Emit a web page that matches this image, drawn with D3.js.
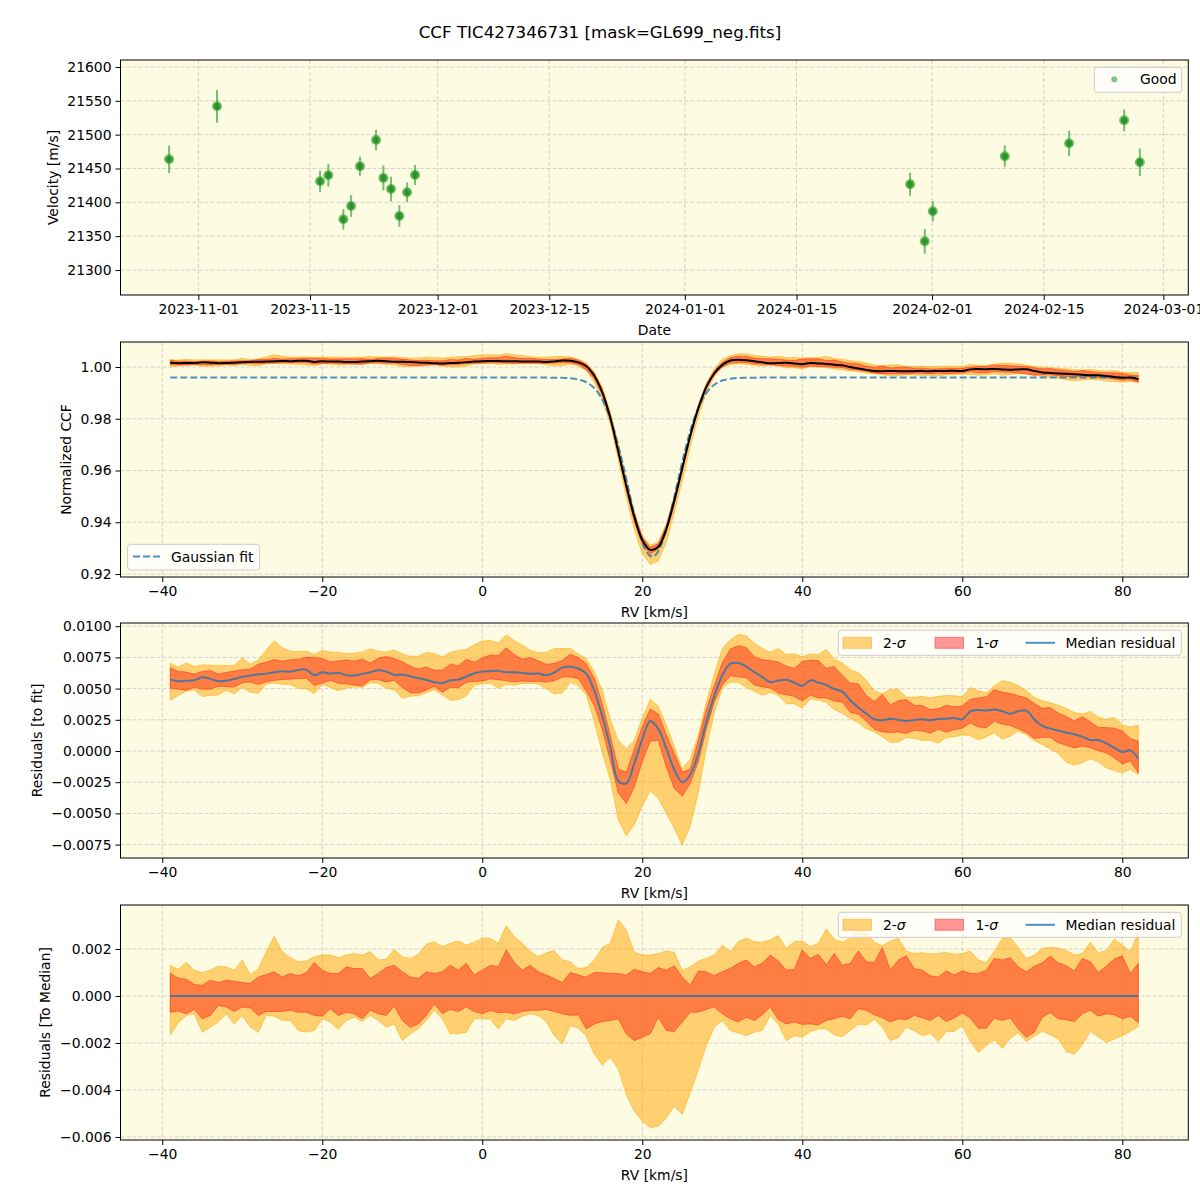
<!DOCTYPE html>
<html><head><meta charset="utf-8">
<script src="https://cdn.jsdelivr.net/npm/d3@7"></script>
<style>
body{margin:0;background:#fff}
svg{display:block}
text{font-family:"DejaVu Sans",sans-serif;fill:#000}
</style>
</head><body>
<svg id="chart" width="1200" height="1200"></svg>
<script>
// ---------------- DATA ----------------
const TITLE = "CCF TIC427346731 [mask=GL699_neg.fits]";

// Top panel: RV time series ("Good" points)
const obsDates = ["2023-10-28T08:00","2023-11-03T08:10","2023-11-16T06:15","2023-11-17T07:10","2023-11-19T04:20",
  "2023-11-20T03:40","2023-11-21T06:30","2023-11-23T06:45","2023-11-24T04:50","2023-11-25T03:50",
  "2023-11-26T04:50","2023-11-27T04:05","2023-11-28T04:05","2024-01-29T05:45","2024-01-31T02:00",
  "2024-02-01T02:10","2024-02-10T02:50","2024-02-18T04:20","2024-02-25T02:00","2024-02-27T01:10"];
const obsVel = [21463.6,21541.9,21431.1,21440.0,21374.9,21394.6,21453.3,21492.1,21436.0,21419.7,
  21379.8,21414.8,21440.4,21426.7,21342.4,21386.8,21468.0,21487.2,21521.2,21459.2];
const obsErr = [20.4,24.1,16.0,16.7,15.2,16.0,14.0,15.2,18.5,18.2,16.0,14.5,14.8,17.0,18.2,14.8,16.0,18.5,16.0,20.4];
const dateTicks = ["2023-11-01","2023-11-15","2023-12-01","2023-12-15","2024-01-01","2024-01-15","2024-02-01","2024-02-15","2024-03-01"];
const velTicks = [21300,21350,21400,21450,21500,21550,21600];

// CCF RV grid (km/s) and Gaussian fit parameters
const rvGrid = d3.range(-39, 83, 1);
const FIT_BASE = 0.9959, FIT_AMP = 0.0692, FIT_MU = 21.25, FIT_SIGMA = 3.05;

// Residual curves, in units of 1e-3
const UNIT = 1e-3;
const medianRes = [5.72,5.59,5.62,5.67,5.91,5.78,5.59,5.62,5.78,5.94,
  6.04,6.15,6.20,6.31,6.39,6.36,6.50,6.52,6.07,6.31,
  6.20,6.26,6.07,6.04,6.18,6.31,6.47,6.36,6.10,6.12,
  5.99,5.83,5.70,5.51,5.45,5.67,5.72,5.96,6.23,6.36,
  6.39,6.42,6.31,6.31,6.26,6.18,6.20,6.07,6.28,6.68,
  6.76,6.60,6.20,4.83,2.80,0.30,-2.40,-2.60,-1.00,0.93,
  2.40,1.76,0.20,-1.50,-2.50,-1.90,-0.20,2.30,4.40,6.05,
  7.00,7.05,6.77,6.32,5.93,5.52,5.64,5.70,5.48,5.21,
  5.67,5.48,5.29,4.97,4.76,4.06,3.48,2.99,2.54,2.46,
  2.59,2.49,2.41,2.49,2.54,2.46,2.57,2.59,2.65,2.54,
  3.18,3.29,3.24,3.32,3.18,2.99,3.18,3.24,2.54,2.01,
  1.79,1.63,1.47,1.34,1.15,0.88,0.88,0.61,0.26,-0.08,
  0.05,-0.61];
// Offsets from the median (upper/lower 2-sigma and 1-sigma), units of 1e-3
const up2 = [1.31,1.13,1.43,1.10,0.99,1.10,1.27,1.23,1.10,1.53,
  0.91,1.14,1.89,2.53,1.89,1.63,1.46,1.49,1.67,1.74,
  1.74,1.63,1.74,1.81,1.74,1.89,1.53,1.57,1.99,1.67,
  1.60,1.77,2.20,2.31,2.10,2.24,2.34,2.17,2.29,2.46,
  2.46,2.24,2.99,2.53,2.24,1.89,1.67,1.84,1.93,1.53,
  1.46,1.17,1.21,1.53,2.06,2.24,3.24,2.81,1.86,1.74,
  1.74,1.81,1.91,1.86,1.10,1.24,1.49,1.60,1.74,2.17,
  1.89,2.31,2.46,2.31,2.29,2.39,2.57,2.03,2.31,2.34,
  2.10,2.24,2.86,2.41,2.29,2.46,2.81,2.67,2.29,2.14,
  2.34,2.46,1.91,1.81,1.84,1.79,1.81,1.86,1.77,1.81,
  1.91,1.53,1.43,1.89,2.46,2.50,2.06,1.60,1.74,2.03,
  2.07,2.03,1.94,1.74,1.81,2.29,1.84,1.93,2.43,2.17,
  1.89,2.67];
const up1 = [0.96,0.77,0.71,0.49,0.46,0.67,0.57,0.67,0.63,0.57,
  0.53,0.81,0.91,1.03,0.81,0.96,0.86,0.99,1.43,1.10,
  0.96,0.96,1.24,1.17,1.17,0.74,0.96,1.21,1.31,1.03,
  0.81,0.74,1.03,0.96,1.03,1.31,1.10,1.39,0.89,1.10,
  1.31,1.24,1.96,1.43,1.10,1.31,1.03,0.89,0.74,0.57,
  1.00,0.89,0.81,1.00,0.99,0.96,0.96,0.89,1.14,1.03,
  0.96,1.21,1.10,1.29,0.81,0.46,1.06,1.03,0.86,1.03,
  1.17,1.39,1.53,1.24,1.39,1.74,1.49,1.10,1.14,1.96,
  1.60,1.77,1.34,1.81,1.31,1.39,1.91,1.46,1.43,2.06,
  1.10,1.53,1.71,1.17,1.10,0.86,0.81,1.07,0.89,1.07,
  0.96,0.96,1.10,1.60,1.53,1.63,1.24,1.03,1.27,1.41,
  1.70,1.41,1.29,1.06,1.60,1.46,1.00,1.27,1.57,1.71,
  0.96,1.39];
const lo1 = [-0.69,-0.64,-0.76,-0.57,-0.97,-0.83,-0.40,-0.47,-0.66,-0.47,
  -0.51,-0.83,-0.66,-0.66,-0.66,-0.61,-0.69,-0.69,-0.83,-0.86,
  -0.54,-0.83,-0.69,-0.76,-0.97,-0.61,-0.76,-0.83,-0.43,-1.04,
  -1.33,-1.19,-0.83,-0.33,-0.76,-0.57,-0.66,-0.47,-0.66,-0.76,
  -0.61,-0.71,-0.69,-0.76,-0.66,-0.61,-0.61,-0.57,-0.66,-0.76,
  -0.83,-0.80,-1.40,-1.19,-1.09,-1.04,-0.97,-1.61,-1.90,-1.76,
  -1.61,-0.90,-1.47,-1.51,-1.11,-0.69,-0.69,-0.57,-0.47,-0.76,
  -0.97,-1.11,-0.90,-1.04,-0.80,-0.47,-1.00,-1.19,-1.11,-1.21,
  -1.19,-1.23,-1.04,-0.97,-0.86,-0.97,-0.54,-0.61,-0.80,-0.93,
  -1.11,-0.97,-1.01,-0.83,-0.93,-1.04,-0.83,-1.09,-0.94,-0.71,
  -0.94,-1.37,-1.37,-0.94,-1.04,-0.94,-1.40,-1.76,-1.54,-0.90,
  -0.71,-0.97,-1.01,-1.09,-0.76,-0.61,-0.86,-0.76,-0.80,-0.97,
  -0.86,-1.14];
const lo2 = [-1.66,-1.14,-0.83,-0.76,-1.54,-1.33,-1.11,-0.76,-1.19,-0.83,
  -1.33,-1.54,-0.83,-0.86,-1.04,-1.04,-1.47,-1.54,-1.47,-0.97,
  -1.11,-1.43,-1.04,-0.90,-1.09,-0.83,-1.04,-1.33,-1.19,-1.90,
  -1.61,-1.40,-1.04,-0.61,-0.97,-1.61,-1.61,-1.54,-0.97,-0.97,
  -0.97,-1.40,-0.97,-1.04,-0.86,-0.76,-0.83,-1.09,-1.69,-2.04,
  -1.26,-1.37,-1.71,-2.47,-2.94,-2.61,-3.11,-4.19,-4.90,-5.33,
  -5.61,-5.54,-5.19,-4.69,-5.04,-4.11,-3.14,-2.11,-1.33,-1.04,
  -1.47,-1.57,-1.69,-1.54,-1.47,-0.83,-1.19,-1.90,-1.69,-1.76,
  -1.51,-1.40,-1.40,-1.66,-1.73,-1.47,-1.20,-1.23,-1.00,-1.33,
  -1.90,-1.77,-1.33,-1.49,-1.69,-1.59,-1.94,-1.51,-1.51,-1.26,
  -1.94,-2.40,-2.11,-1.86,-2.23,-1.80,-1.57,-1.94,-1.71,-1.50,
  -1.66,-1.83,-2.37,-2.47,-2.09,-1.51,-1.74,-1.97,-1.83,-1.69,
  -1.51,-1.29];

const rvTicks = [-40,-20,0,20,40,60,80];
const ccfTicks = [0.92,0.94,0.96,0.98,1.00];
const resFitTicks = [-0.0075,-0.005,-0.0025,0,0.0025,0.005,0.0075,0.01];
const resMedTicks = [-0.006,-0.004,-0.002,0,0.002];

// ---------------- DRAWING ----------------
const svg = d3.select("#chart");
svg.append("rect").attr("width",1200).attr("height",1200).attr("fill","#fff");
const BG = "#fdfbe1", GRID = "#c9c9c9";
const L = 120.5, R = 1188.3;
const FS = 13.9;
const COL_2S = "#ffa500", COL_1S = "#ff0000", COL_MED = "#1f77b4";
const smooth = d3.curveCatmullRom.alpha(0.5);

const gaussFit = rv => FIT_BASE - FIT_AMP * Math.exp(-((rv - FIT_MU) ** 2) / (2 * FIT_SIGMA ** 2));

const rows = rvGrid.map((rv, i) => ({
  rv, m: medianRes[i]*UNIT, u2: up2[i]*UNIT, u1: up1[i]*UNIT, l1: lo1[i]*UNIT, l2: lo2[i]*UNIT
}));

svg.append("text").attr("x",600).attr("y",38).attr("text-anchor","middle")
  .attr("font-size",16.7).text(TITLE);

function panelBase(top, bottom) {
  const g = svg.append("g");
  g.append("rect").attr("x",L).attr("y",top).attr("width",R-L).attr("height",bottom-top).attr("fill",BG);
  return g;
}
function grid(g, xs, ys, xScale, yScale, top, bottom) {
  xs.forEach(v => g.append("line").attr("x1",xScale(v)).attr("x2",xScale(v)).attr("y1",top).attr("y2",bottom)
    .attr("stroke",GRID).attr("stroke-width",0.8).attr("stroke-dasharray","4,2"));
  ys.forEach(v => g.append("line").attr("x1",L).attr("x2",R).attr("y1",yScale(v)).attr("y2",yScale(v))
    .attr("stroke",GRID).attr("stroke-width",0.8).attr("stroke-dasharray","4,2"));
}
function axes(g, xScale, xTicks, xFmt, yScale, yTicks, yFmt, top, bottom) {
  const ax = g.append("g").attr("transform",`translate(0,${bottom})`)
    .call(d3.axisBottom(xScale).tickValues(xTicks).tickFormat(xFmt).tickSize(5).tickPadding(4));
  const ay = g.append("g").attr("transform",`translate(${L},0)`)
    .call(d3.axisLeft(yScale).tickValues(yTicks).tickFormat(yFmt).tickSize(5).tickPadding(4));
  [ax, ay].forEach(a => {
    a.select(".domain").remove();
    a.selectAll("text").attr("font-size",FS).attr("font-family","DejaVu Sans").attr("fill","#000");
    a.selectAll("line").attr("stroke","#000").attr("stroke-width",1);
  });
  g.append("rect").attr("x",L).attr("y",top).attr("width",R-L).attr("height",bottom-top)
    .attr("fill","none").attr("stroke","#000").attr("stroke-width",1);
}
function xLabel(text, y) {
  svg.append("text").attr("x",(L+R)/2).attr("y",y).attr("text-anchor","middle").attr("font-size",FS).text(text);
}
function yLabel(text, x, top, bottom) {
  svg.append("text").attr("transform",`translate(${x},${(top+bottom)/2}) rotate(-90)`)
    .attr("text-anchor","middle").attr("dominant-baseline","central").attr("font-size",FS).text(text);
}
function bandLegend(top) {
  const g = svg.append("g");
  g.append("rect").attr("x",838.3).attr("y",top).attr("width",343).attr("height",25).attr("rx",3)
    .attr("fill","#fff").attr("fill-opacity",0.8).attr("stroke","#cccccc");
  const cy = top + 12.5;
  g.append("rect").attr("x",843).attr("y",cy-5.5).attr("width",28.5).attr("height",11)
    .attr("fill",COL_2S).attr("fill-opacity",0.5).attr("stroke",COL_2S).attr("stroke-opacity",0.5);
  const t1 = g.append("text").attr("x",883).attr("y",cy+5).attr("font-size",FS);
  t1.append("tspan").text("2-"); t1.append("tspan").attr("font-style","italic").text("σ");
  g.append("rect").attr("x",935).attr("y",cy-5.5).attr("width",28.5).attr("height",11)
    .attr("fill",COL_1S).attr("fill-opacity",0.4).attr("stroke",COL_1S).attr("stroke-opacity",0.4);
  const t2 = g.append("text").attr("x",975.5).attr("y",cy+5).attr("font-size",FS);
  t2.append("tspan").text("1-"); t2.append("tspan").attr("font-style","italic").text("σ");
  g.append("line").attr("x1",1025.5).attr("x2",1055).attr("y1",cy).attr("y2",cy)
    .attr("stroke",COL_MED).attr("stroke-opacity",0.8).attr("stroke-width",2);
  g.append("text").attr("x",1065.5).attr("y",cy+5).attr("font-size",FS).text("Median residual");
}
function drawBands(g, x, y, base) {
  const a2 = d3.area().x(d => x(d.rv)).y0(d => y(base(d) + d.m + d.l2)).y1(d => y(base(d) + d.m + d.u2));
  const a1 = d3.area().x(d => x(d.rv)).y0(d => y(base(d) + d.m + d.l1)).y1(d => y(base(d) + d.m + d.u1));
  g.append("path").datum(rows).attr("d",a2).attr("fill",COL_2S).attr("fill-opacity",0.5)
    .attr("stroke",COL_2S).attr("stroke-opacity",0.5).attr("stroke-width",1);
  g.append("path").datum(rows).attr("d",a1).attr("fill",COL_1S).attr("fill-opacity",0.4)
    .attr("stroke",COL_1S).attr("stroke-opacity",0.4).attr("stroke-width",1);
}

// ----- Panel 1: velocity time series -----
{
  const top = 60, bottom = 295;
  const parseT = d3.utcParse("%Y-%m-%dT%H:%M"), parseD = d3.utcParse("%Y-%m-%d");
  const x = d3.scaleUtc().domain([new Date(Date.UTC(2023,9,22,5,45)), new Date(Date.UTC(2024,2,4,3,0))]).range([L,R]);
  const y = d3.scaleLinear().domain([21263.1, 21610.3]).range([bottom, top]);
  const g = panelBase(top, bottom);
  const dTicks = dateTicks.map(parseD);
  grid(g, dTicks, velTicks, x, y, top, bottom);
  const pts = obsDates.map((d,i) => ({t: parseT(d), v: obsVel[i], e: obsErr[i]}));
  g.selectAll(".eb").data(pts).join("line")
    .attr("x1",d=>x(d.t)).attr("x2",d=>x(d.t)).attr("y1",d=>y(d.v-d.e)).attr("y2",d=>y(d.v+d.e))
    .attr("stroke","#2ca02c").attr("stroke-opacity",0.65).attr("stroke-width",2);
  g.selectAll(".mk").data(pts).join("circle")
    .attr("cx",d=>x(d.t)).attr("cy",d=>y(d.v)).attr("r",5)
    .attr("fill","#2ca02c").attr("fill-opacity",0.65);
  g.selectAll(".mk2").data(pts).join("circle")
    .attr("cx",d=>x(d.t)).attr("cy",d=>y(d.v)).attr("r",3.4)
    .attr("fill","#1f8a1f").attr("fill-opacity",0.75);
  axes(g, x, dTicks, d3.utcFormat("%Y-%m-%d"), y, velTicks, d3.format("d"), top, bottom);
  // legend
  svg.append("rect").attr("x",1094.3).attr("y",67.3).attr("width",87.4).attr("height",25).attr("rx",3)
    .attr("fill","#fff").attr("fill-opacity",0.8).attr("stroke","#cccccc");
  svg.append("circle").attr("cx",1114.3).attr("cy",79.3).attr("r",3).attr("fill","#2ca02c").attr("fill-opacity",0.6);
  svg.append("text").attr("x",1140).attr("y",84.3).attr("font-size",FS).text("Good");
  xLabel("Date", 335);
  yLabel("Velocity [m/s]", 53, top, bottom);
}

const xRV = d3.scaleLinear().domain([-45.22, 88.25]).range([L, R]);

// ----- Panel 2: normalized CCF -----
{
  const top = 342, bottom = 577;
  const y = d3.scaleLinear().domain([0.918841, 1.009662]).range([bottom, top]);
  const g = panelBase(top, bottom);
  grid(g, rvTicks, ccfTicks, xRV, y, top, bottom);
  drawBands(g, xRV, y, d => gaussFit(d.rv));
  const fitPts = d3.range(-39, 82.01, 0.25);
  g.append("path").datum(fitPts)
    .attr("d", d3.line().x(d => xRV(d)).y(d => y(gaussFit(d))))
    .attr("fill","none").attr("stroke",COL_MED).attr("stroke-opacity",0.8).attr("stroke-width",2)
    .attr("stroke-dasharray","7,3");
  g.append("path").datum(rows)
    .attr("d", d3.line().curve(smooth).x(d => xRV(d.rv)).y(d => y(gaussFit(d.rv) + d.m)))
    .attr("fill","none").attr("stroke","#000").attr("stroke-width",2);
  axes(g, xRV, rvTicks, d3.format("d"), y, ccfTicks, d3.format(".2f"), top, bottom);
  svg.append("rect").attr("x",127.6).attr("y",544.3).attr("width",132).attr("height",25.7).attr("rx",3)
    .attr("fill","#fff").attr("fill-opacity",0.8).attr("stroke","#cccccc");
  svg.append("line").attr("x1",133).attr("x2",161).attr("y1",556.5).attr("y2",556.5)
    .attr("stroke",COL_MED).attr("stroke-opacity",0.8).attr("stroke-width",2).attr("stroke-dasharray","7,3");
  svg.append("text").attr("x",171).attr("y",561.5).attr("font-size",FS).text("Gaussian fit");
  xLabel("RV [km/s]", 617);
  yLabel("Normalized CCF", 66, top, bottom);
}

// ----- Panel 3: residuals to fit -----
{
  const top = 623, bottom = 858;
  const y = d3.scaleLinear().domain([-0.008574, 0.010256]).range([bottom, top]);
  const g = panelBase(top, bottom);
  grid(g, rvTicks, resFitTicks, xRV, y, top, bottom);
  drawBands(g, xRV, y, d => 0);
  g.append("path").datum(rows)
    .attr("d", d3.line().curve(smooth).x(d => xRV(d.rv)).y(d => y(d.m)))
    .attr("fill","none").attr("stroke",COL_MED).attr("stroke-opacity",0.8).attr("stroke-width",2);
  axes(g, xRV, rvTicks, d3.format("d"), y, resFitTicks, d3.format(".4f"), top, bottom);
  bandLegend(630.3);
  xLabel("RV [km/s]", 898);
  yLabel("Residuals [to fit]", 37, top, bottom);
}

// ----- Panel 4: residuals to median -----
{
  const top = 905, bottom = 1140;
  const y = d3.scaleLinear().domain([-0.006128, 0.003872]).range([bottom, top]);
  const g = panelBase(top, bottom);
  grid(g, rvTicks, resMedTicks, xRV, y, top, bottom);
  drawBands(g, xRV, y, d => -d.m);
  g.append("path").datum(rows)
    .attr("d", d3.line().x(d => xRV(d.rv)).y(d => y(d.m - d.m)))
    .attr("fill","none").attr("stroke",COL_MED).attr("stroke-opacity",0.8).attr("stroke-width",2);
  axes(g, xRV, rvTicks, d3.format("d"), y, resMedTicks, d3.format(".3f"), top, bottom);
  bandLegend(912.3);
  xLabel("RV [km/s]", 1180);
  yLabel("Residuals [To Median]", 45, top, bottom);
}
</script>
</body></html>
